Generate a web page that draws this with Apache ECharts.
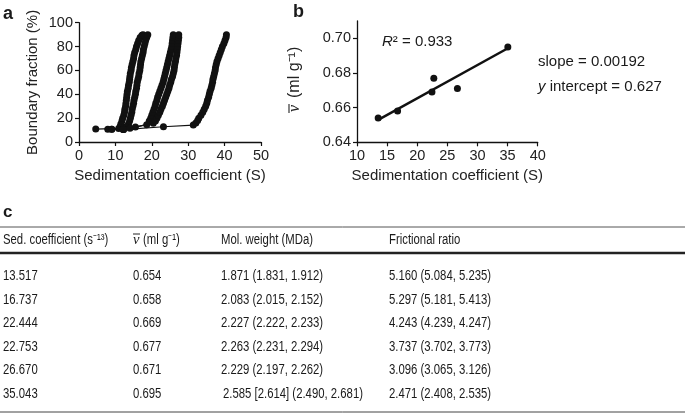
<!DOCTYPE html>
<html><head><meta charset="utf-8">
<script src="https://cdn.jsdelivr.net/npm/echarts@6/dist/echarts.min.js"></script>
<style>html,body{margin:0;padding:0;background:#fff}#c{width:685px;height:420px}</style>
</head><body><div id="c"></div>
<script>
// ---------- Panel a: boundary distributions [S, boundary fraction %] ----------
const curveA = [[4.6,10.8],[10.9,11.4],[11.3,13],[11.5,15],[11.8,17.5],[12.0,20],[12.3,22.5],[12.5,25],[12.6,27.5],[12.8,30],[12.9,32.5],[13.0,35],[13.1,37.5],[13.2,40],[13.3,42.5],[13.5,45],[13.6,47.5],[13.8,50],[13.9,52.5],[14.0,55],[14.1,57.5],[14.3,60],[14.4,62.5],[14.6,65],[14.8,67.5],[15.0,70],[15.1,72.5],[15.3,75],[15.6,77.5],[15.8,80],[16.1,82.5],[16.4,85],[16.8,87.5],[17.3,89.5],[17.6,90]];
const curveB = [[7.9,10.6],[12.2,10.4],[13.1,13],[13.6,15],[13.9,17.5],[14.1,20],[14.3,22.5],[14.5,25],[14.6,27.5],[14.8,30],[15.0,32.5],[15.1,35],[15.3,37.5],[15.5,40],[15.6,42.5],[15.8,45],[15.9,47.5],[16.0,50],[16.2,52.5],[16.4,55],[16.5,57.5],[16.7,60],[16.8,62.5],[16.9,65],[17.0,67.5],[17.2,70],[17.4,72.5],[17.6,75],[17.7,77.5],[17.9,80],[18.1,82.5],[18.3,85],[18.6,87.5],[18.9,90]];
const curveC = [[9.0,10.6],[12.2,10.4],[15.5,12.5],[18.6,14.5],[19.3,17.5],[19.7,20],[20.0,22.5],[20.3,25],[20.6,27.5],[20.9,30],[21.1,32.5],[21.4,35],[21.6,37.5],[21.9,40],[22.2,42.5],[22.5,45],[22.8,47.5],[23.1,50],[23.3,52.5],[23.5,55],[23.7,57.5],[23.9,60],[24.1,62.5],[24.3,65],[24.5,67.5],[24.7,70],[24.9,72.5],[25.1,75],[25.3,77.5],[25.5,80],[25.6,82.5],[25.7,85],[25.8,87.5],[25.9,90]];
const curveD = [[9.0,10.6],[14.0,11.6],[20.4,15.8],[21.0,17.5],[21.4,20],[21.8,22.5],[22.2,25],[22.5,27.5],[22.9,30],[23.2,32.5],[23.5,35],[23.8,37.5],[24.1,40],[24.4,42.5],[24.7,45],[24.9,47.5],[25.2,50],[25.4,52.5],[25.7,55],[25.9,57.5],[26.1,60],[26.2,62.5],[26.3,65],[26.5,67.5],[26.6,70],[26.8,72.5],[26.9,75],[27.0,77.5],[27.1,80],[27.2,82.5],[27.3,85],[27.4,87.5],[27.4,90]];
const curveE = [[12.2,10.4],[23.2,12.8],[31.4,14.2],[32.1,16],[32.6,18],[32.9,20],[33.5,22.5],[34.0,25],[34.4,27.5],[34.8,30],[35.1,32.5],[35.3,35],[35.6,37.5],[35.8,40],[36.0,42.5],[36.3,45],[36.5,47.5],[36.7,50],[36.8,52.5],[37.0,55],[37.2,57.5],[37.4,60],[37.5,62.5],[37.7,65],[37.9,67.5],[38.2,70],[38.5,72.5],[38.8,75],[39.1,77.5],[39.4,80],[39.8,82.5],[40.1,85],[40.4,87.5],[40.5,90]];
const aXTicks = [0, 10, 20, 30, 40, 50];
const aYTicks = [0, 20, 40, 60, 80, 100];

// ---------- Panel b / table values ----------
const sedCoef = [13.517, 16.737, 22.444, 22.753, 26.670, 35.043];
const vBar = [0.654, 0.658, 0.669, 0.677, 0.671, 0.695];
const slope = 0.00192;
const yIntercept = 0.627;
const rSquared = 0.933;
const bXTicks = [10, 15, 20, 25, 30, 35, 40];
const bYTicks = [0.64, 0.66, 0.68, 0.70];

// ---------- Panel c table ----------
const tableHeaders = ['Sed. coefficient (s\u207B\u00B9\u00B3)', 'v', 'Mol. weight (MDa)', 'Frictional ratio'];
const vBarUnit = '(ml g\u207B\u00B9)';
const molWeight = ['1.871 (1.831, 1.912)', '2.083 (2.015, 2.152)', '2.227 (2.222, 2.233)', '2.263 (2.231, 2.294)', '2.229 (2.197, 2.262)', '2.585 [2.614] (2.490, 2.681)'];
const frictional = ['5.160 (5.084, 5.235)', '5.297 (5.181, 5.413)', '4.243 (4.239, 4.247)', '3.737 (3.702, 3.773)', '3.096 (3.065, 3.126)', '2.471 (2.408, 2.535)'];

const INK = '#111';
const SANS = '"Liberation Sans", Arial, sans-serif';
const SERIF = '"Liberation Serif", "Times New Roman", serif';

const chart = echarts.init(document.getElementById('c'), null, {renderer: 'canvas'});

function axisCommon(){
  return {
    axisLine: {show: true, onZero: false, lineStyle: {color: INK, width: 1.3}},
    axisTick: {show: true, inside: false, length: 4, lineStyle: {color: INK, width: 1.2}},
    axisLabel: {color: '#222', fontSize: 14.5, fontFamily: SANS, margin: 6},
    splitLine: {show: false},
    nameTextStyle: {color: '#222', fontSize: 15, fontFamily: SANS}
  };
}

const curveSeries = [curveA, curveB, curveC, curveD, curveE].map(d => ({
  type: 'line', xAxisIndex: 0, yAxisIndex: 0, data: d,
  symbol: 'circle', symbolSize: 7, showAllSymbol: true,
  lineStyle: {color: INK, width: 1.2}, itemStyle: {color: INK, opacity: 1},
  silent: true, animation: false
}));

const fitX = [sedCoef[0], sedCoef[sedCoef.length - 1]];
const fitLine = fitX.map(x => [x, slope * x + yIntercept]);

// Table graphic elements
const colX = [3, 133, 221, 389];
const headerY = 240;
const rowY0 = 276.5, rowStep = 23.5;
const NARROW_SCALE = 0.81;
const tblFont = '14px ' + SANS;
const graphics = [];
function txt(x, y, text, font, extra, sx){
  const el = {type: 'text', x: x, y: y, silent: true,
    style: Object.assign({text: text, font: font, fill: '#1a1a1a', verticalAlign: 'middle', textVerticalAlign: 'middle', align: 'left', textAlign: 'left'}, extra || {})};
  if (sx) { el.scaleX = sx; }
  return el;
}
function rule(x1, y1, x2, y2, color, w){
  return {type: 'line', silent: true, shape: {x1: x1, y1: y1, x2: x2, y2: y2}, style: {stroke: color, lineWidth: w}};
}
// panel letters
graphics.push(txt(3, 14, 'a', 'bold 18px ' + SANS));
graphics.push(txt(293, 12, 'b', 'bold 18px ' + SANS));
graphics.push(txt(3, 212, 'c', 'bold 17px ' + SANS));
// panel b annotations
const italicRich = {i: {fontStyle: 'italic', fontSize: 15, fontFamily: SANS, fill: '#1a1a1a', color: '#1a1a1a'}};
graphics.push(txt(382, 42, '{i|R}\u00B2 = ' + rSquared.toFixed(3), '15px ' + SANS, {rich: italicRich}));
graphics.push(txt(538, 62, 'slope = ' + slope.toFixed(5), '15px ' + SANS));
graphics.push(txt(538, 87, '{i|y} intercept = ' + yIntercept.toFixed(3), '15px ' + SANS, {rich: italicRich}));
// panel b y-axis title (rotated group: v with overline, then unit)
graphics.push({type: 'group', x: 295, y: 70, rotation: Math.PI / 2, silent: true, children: [
  {type: 'text', x: -42, y: 0, silent: true, style: {text: 'v', font: 'italic 16px ' + SERIF, fill: '#222', align: 'left', verticalAlign: 'middle', textAlign: 'left', textVerticalAlign: 'middle'}},
  {type: 'line', silent: true, shape: {x1: -43, y1: -6, x2: -34, y2: -6}, style: {stroke: '#222', lineWidth: 1.1}},
  {type: 'text', x: -28, y: 0, silent: true, style: {text: vBarUnit, font: '16px ' + SANS, fill: '#222', align: 'left', verticalAlign: 'middle', textAlign: 'left', textVerticalAlign: 'middle'}}
]});
// table rules
graphics.push(rule(0, 227, 685, 227, '#555', 1));
graphics.push(rule(0, 253, 685, 253, '#222', 2.5));
graphics.push(rule(0, 412, 685, 412, '#444', 1));
// headers
graphics.push(txt(colX[0], headerY, tableHeaders[0], tblFont, null, NARROW_SCALE));
graphics.push(txt(colX[1], headerY + 0.5, tableHeaders[1], 'italic 14.5px ' + SERIF, null, 1));
graphics.push(rule(colX[1], headerY - 6, colX[1] + 7, headerY - 6, '#222', 1));
graphics.push(txt(colX[1] + 10, headerY, vBarUnit, tblFont, null, NARROW_SCALE));
graphics.push(txt(colX[2], headerY, tableHeaders[2], tblFont, null, NARROW_SCALE));
graphics.push(txt(colX[3], headerY, tableHeaders[3], tblFont, null, NARROW_SCALE));
// rows
sedCoef.forEach((s, r) => {
  const y = rowY0 + r * rowStep;
  graphics.push(txt(colX[0], y, s.toFixed(3), tblFont, null, NARROW_SCALE));
  graphics.push(txt(colX[1], y, vBar[r].toFixed(3), tblFont, null, NARROW_SCALE));
  graphics.push(txt(colX[2] + (r === 5 ? 2 : 0), y, molWeight[r], tblFont, null, NARROW_SCALE));
  graphics.push(txt(colX[3], y, frictional[r], tblFont, null, NARROW_SCALE));
});

const option = {
  animation: false,
  backgroundColor: '#fff',
  grid: [
    {left: 79, top: 22.7, width: 182, height: 119.3, containLabel: false},
    {left: 357, top: 21, width: 180.7, height: 121.3, containLabel: false}
  ],
  xAxis: [
    Object.assign(axisCommon(), {gridIndex: 0, type: 'value', min: aXTicks[0], max: aXTicks[aXTicks.length - 1], interval: 10,
      name: 'Sedimentation coefficient (S)', nameLocation: 'middle', nameGap: 26}),
    Object.assign(axisCommon(), {gridIndex: 1, type: 'value', min: bXTicks[0], max: bXTicks[bXTicks.length - 1], interval: 5,
      name: 'Sedimentation coefficient (S)', nameLocation: 'middle', nameGap: 26})
  ],
  yAxis: [
    Object.assign(axisCommon(), {gridIndex: 0, type: 'value', min: aYTicks[0], max: aYTicks[aYTicks.length - 1], interval: 20,
      name: 'Boundary fraction (%)', nameLocation: 'middle', nameGap: 39}),
    (function(){
      const a = Object.assign(axisCommon(), {gridIndex: 1, type: 'value', min: 0.64, max: 0.71});
      a.axisTick = Object.assign({}, a.axisTick, {customValues: bYTicks});
      a.axisLabel = Object.assign({}, a.axisLabel, {customValues: bYTicks, formatter: v => v.toFixed(2)});
      return a;
    })()
  ],
  series: curveSeries.concat([
    {type: 'line', xAxisIndex: 1, yAxisIndex: 1, data: fitLine, symbol: 'none',
      lineStyle: {color: INK, width: 2.5}, silent: true},
    {type: 'scatter', xAxisIndex: 1, yAxisIndex: 1, data: sedCoef.map((s, i) => [s, vBar[i]]),
      symbol: 'circle', symbolSize: 7, itemStyle: {color: INK, opacity: 1}, silent: true, z: 5}
  ]),
  graphic: graphics
};
chart.setOption(option);
</script></body></html>
